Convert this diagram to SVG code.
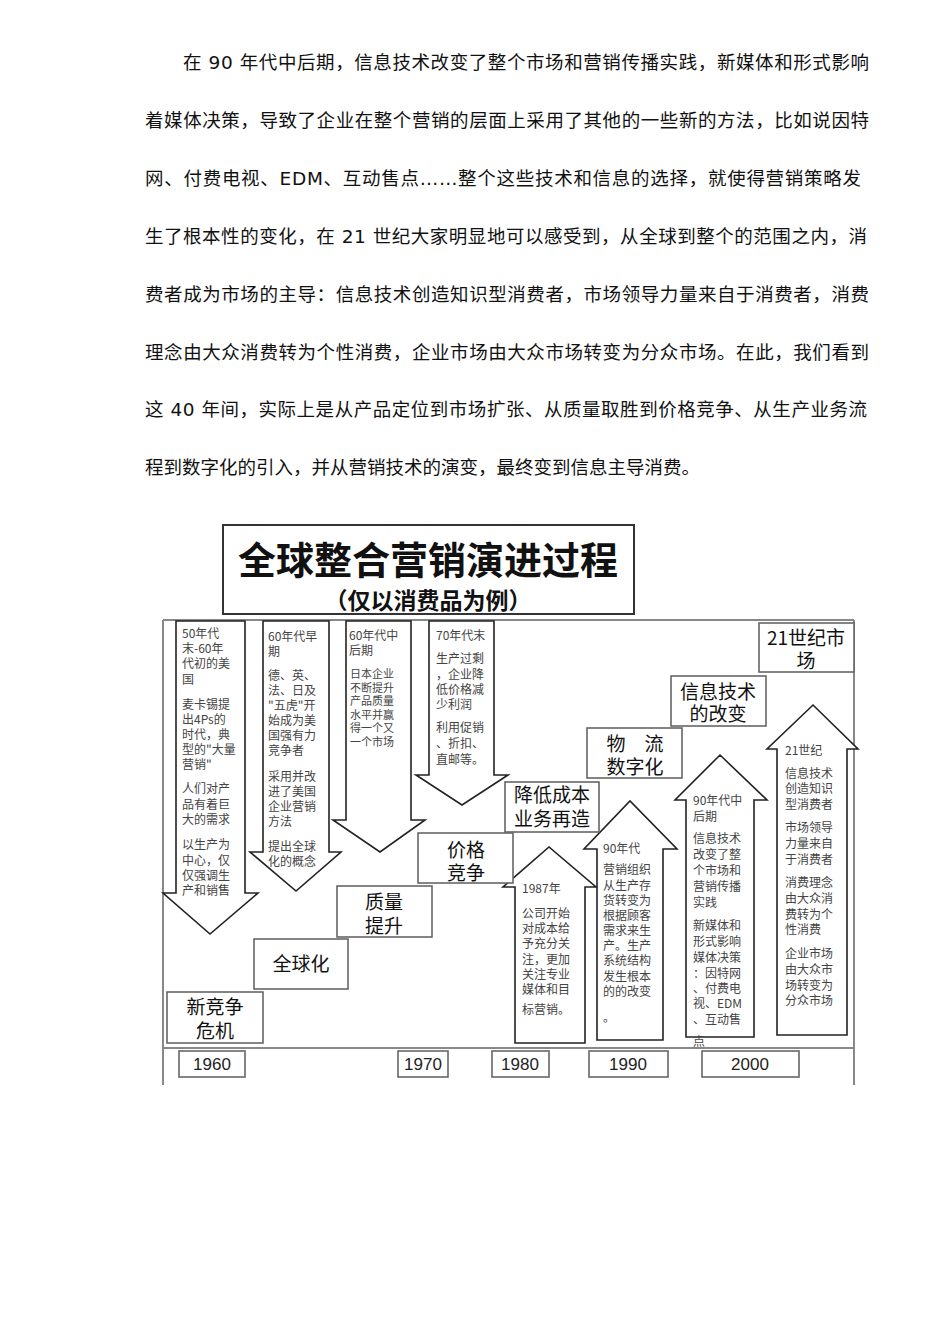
<svg xmlns="http://www.w3.org/2000/svg" width="950" height="1344" viewBox="0 0 950 1344">
<style>
.para{font-family:"DejaVu Sans","Noto Sans CJK SC",sans-serif;font-size:18.5px;fill:#111}
.arr{fill:#fff;stroke:#222;stroke-width:1.6;stroke-linejoin:miter}
.box{fill:#fff;stroke:#666;stroke-width:1.6}
.frame{fill:none;stroke:#888;stroke-width:2}
.small{font-family:"Noto Sans CJK SC",sans-serif;font-size:12px;fill:#444}
.tight{font-size:11px}
.step{font-family:"Noto Sans CJK SC",sans-serif;font-size:19px;fill:#111;text-anchor:middle}
.year{font-family:"Liberation Sans",Arial,sans-serif;font-size:17px;fill:#222;text-anchor:middle}
.title{font-family:"Noto Sans CJK SC",sans-serif;font-weight:bold;fill:#111;text-anchor:middle}
</style>
<rect width="950" height="1344" fill="#fff"/>
<g id="paragraph">
<text class="para" x="183" y="69" textLength="686" lengthAdjust="spacing">在 90 年代中后期，信息技术改变了整个市场和营销传播实践，新媒体和形式影响</text>
<text class="para" x="145" y="127" textLength="724" lengthAdjust="spacing">着媒体决策，导致了企业在整个营销的层面上采用了其他的一些新的方法，比如说因特</text>
<text class="para" x="145" y="185" textLength="716" lengthAdjust="spacing">网、付费电视、EDM、互动售点……整个这些技术和信息的选择，就使得营销策略发</text>
<text class="para" x="145" y="243" textLength="722" lengthAdjust="spacing">生了根本性的变化，在 21 世纪大家明显地可以感受到，从全球到整个的范围之内，消</text>
<text class="para" x="145" y="301" textLength="724" lengthAdjust="spacing">费者成为市场的主导：信息技术创造知识型消费者，市场领导力量来自于消费者，消费</text>
<text class="para" x="145" y="359" textLength="724" lengthAdjust="spacing">理念由大众消费转为个性消费，企业市场由大众市场转变为分众市场。在此，我们看到</text>
<text class="para" x="145" y="416" textLength="722" lengthAdjust="spacing">这 40 年间，实际上是从产品定位到市场扩张、从质量取胜到价格竞争、从生产业务流</text>
<text class="para" x="145" y="474">程到数字化的引入，并从营销技术的演变，最终变到信息主导消费。</text>
</g>
<g id="title">
<rect x="223" y="525" width="411" height="89" fill="#fff" stroke="#333" stroke-width="2"/>
<text class="title" x="428" y="574" font-size="38">全球整合营销演进过程</text>
<text class="title" x="428" y="609" font-size="23">（仅以消费品为例）</text>
</g>
<g id="frame">
<path class="frame" d="M163,620 H854 M163,620 V1085 M854,620 V1085 M163,1048 H854"/>
</g>
<g id="arrow-50s">
<polygon class="arr" points="176,621 245,621 245,893 258,893 210,934 163,893 176,893"/>
<text class="small"><tspan x="182" y="637.5">50年代</tspan><tspan x="182" y="652.5">末-60年</tspan><tspan x="182" y="667.5">代初的美</tspan><tspan x="182" y="683.5">国</tspan><tspan x="182" y="708.5">麦卡锡提</tspan><tspan x="182" y="723.5">出4Ps的</tspan><tspan x="182" y="738.5">时代，典</tspan><tspan x="182" y="753.5">型的"大量</tspan><tspan x="182" y="768.5">营销"</tspan><tspan x="182" y="792.5">人们对产</tspan><tspan x="182" y="808.5">品有着巨</tspan><tspan x="182" y="823.5">大的需求</tspan><tspan x="182" y="848.5">以生产为</tspan><tspan x="182" y="864.5">中心，仅</tspan><tspan x="182" y="879.5">仅强调生</tspan><tspan x="182" y="894.5">产和销售</tspan></text>
</g>
<g id="arrow-60s-early">
<polygon class="arr" points="263,621 329,621 329,852 341,852 296,891 250,852 263,852"/>
<text class="small"><tspan x="268" y="640.5">60年代早</tspan><tspan x="268" y="655.5">期</tspan><tspan x="268" y="679.5">德、英、</tspan><tspan x="268" y="694.5">法、日及</tspan><tspan x="268" y="709.5">"五虎"开</tspan><tspan x="268" y="724.5">始成为美</tspan><tspan x="268" y="739.5">国强有力</tspan><tspan x="268" y="754.5">竞争者</tspan><tspan x="268" y="780.5">采用并改</tspan><tspan x="268" y="795.5">进了美国</tspan><tspan x="268" y="810.5">企业营销</tspan><tspan x="268" y="825.5">方法</tspan><tspan x="268" y="850.5">提出全球</tspan><tspan x="268" y="865.5">化的概念</tspan></text>
</g>
<g id="arrow-60s-late">
<polygon class="arr" points="346,621 411,621 411,820 425,820 380,852 333,820 346,820"/>
<text class="small"><tspan x="349" y="639.5">60年代中</tspan><tspan x="349" y="654.5">后期</tspan></text>
<text class="small tight"><tspan x="350" y="678">日本企业</tspan><tspan x="350" y="691.5">不断提升</tspan><tspan x="350" y="705">产品质量</tspan><tspan x="350" y="718.5">水平并赢</tspan><tspan x="350" y="732">得一个又</tspan><tspan x="350" y="745.5">一个市场</tspan></text>
</g>
<g id="arrow-70s">
<polygon class="arr" points="429,621 494,621 494,775 508,775 462,805 416,775 429,775"/>
<text class="small"><tspan x="436" y="639.5">70年代末</tspan><tspan x="436" y="662.5">生产过剩</tspan><tspan x="436" y="678.5">，企业降</tspan><tspan x="436" y="693.5">低价格减</tspan><tspan x="436" y="708.5">少利润</tspan><tspan x="436" y="731.5">利用促销</tspan><tspan x="436" y="747.5">、折扣、</tspan><tspan x="436" y="763.5">直邮等。</tspan></text>
</g>
<g id="arrow-1987">
<polygon class="arr" points="515,1043 515,887 503,887 549,847 596,887 585,887 585,1043"/>
<text class="small"><tspan x="522" y="892.5">1987年</tspan><tspan x="522" y="917.5">公司开始</tspan><tspan x="522" y="932.5">对成本给</tspan><tspan x="522" y="947.5">予充分关</tspan><tspan x="522" y="963.5">注，更加</tspan><tspan x="522" y="978.5">关注专业</tspan><tspan x="522" y="993.5">媒体和目</tspan><tspan x="522" y="1013.5">标营销。</tspan></text>
</g>
<g id="arrow-90s">
<polygon class="arr" points="597,1040 597,849 584,849 630,801 677,849 663,849 663,1040"/>
<text class="small"><tspan x="603" y="852.5">90年代</tspan><tspan x="603" y="873.5">营销组织</tspan><tspan x="603" y="889.5">从生产存</tspan><tspan x="603" y="904.5">货转变为</tspan><tspan x="603" y="919.5">根据顾客</tspan><tspan x="603" y="934.5">需求来生</tspan><tspan x="603" y="949.5">产。生产</tspan><tspan x="603" y="964.5">系统结构</tspan><tspan x="603" y="980.5">发生根本</tspan><tspan x="603" y="995.5">的的改变</tspan><tspan x="603" y="1021.5">。</tspan></text>
</g>
<g id="arrow-90s-late">
<polygon class="arr" points="686,1037 686,800 675,800 720,755 767,800 754,800 754,1037"/>
<text class="small"><tspan x="693" y="804.5">90年代中</tspan><tspan x="693" y="820.5">后期</tspan><tspan x="693" y="842.5">信息技术</tspan><tspan x="693" y="858.5">改变了整</tspan><tspan x="693" y="874.5">个市场和</tspan><tspan x="693" y="890.5">营销传播</tspan><tspan x="693" y="906.5">实践</tspan><tspan x="693" y="929.5">新媒体和</tspan><tspan x="693" y="945.5">形式影响</tspan><tspan x="693" y="961.5">媒体决策</tspan><tspan x="693" y="977.5">：因特网</tspan><tspan x="693" y="992.5">、付费电</tspan><tspan x="693" y="1007.5">视、EDM</tspan><tspan x="693" y="1023.5">、互动售</tspan><tspan x="693" y="1045.5">点</tspan></text>
</g>
<g id="arrow-21c">
<polygon class="arr" points="777,1035 777,749 767,749 813,705 858,749 847,749 847,1035"/>
<text class="small"><tspan x="785" y="754.5">21世纪</tspan><tspan x="785" y="777.5">信息技术</tspan><tspan x="785" y="792.5">创造知识</tspan><tspan x="785" y="808.5">型消费者</tspan><tspan x="785" y="831.5">市场领导</tspan><tspan x="785" y="847.5">力量来自</tspan><tspan x="785" y="863.5">于消费者</tspan><tspan x="785" y="886.5">消费理念</tspan><tspan x="785" y="902.5">由大众消</tspan><tspan x="785" y="918.5">费转为个</tspan><tspan x="785" y="933.5">性消费</tspan><tspan x="785" y="957.5">企业市场</tspan><tspan x="785" y="973.5">由大众市</tspan><tspan x="785" y="989.5">场转变为</tspan><tspan x="785" y="1004.5">分众市场</tspan></text>
</g>
<g id="step-new-competition">
<rect class="box" x="167" y="992" width="96" height="51"/>
<text class="step"><tspan x="215" y="1014">新竞争</tspan><tspan x="215" y="1038">危机</tspan></text>
</g>
<g id="step-globalization">
<rect class="box" x="254" y="939" width="94" height="50"/>
<text class="step" x="301" y="971">全球化</text>
</g>
<g id="step-quality">
<rect class="box" x="337" y="886" width="95" height="51"/>
<text class="step"><tspan x="384" y="909">质量</tspan><tspan x="384" y="933">提升</tspan></text>
</g>
<g id="step-price">
<rect class="box" x="418" y="833" width="95" height="50"/>
<text class="step"><tspan x="466" y="857">价格</tspan><tspan x="466" y="880">竞争</tspan></text>
</g>
<g id="step-cost">
<rect class="box" x="505" y="782" width="94" height="50"/>
<text class="step"><tspan x="552" y="802">降低成本</tspan><tspan x="552" y="826">业务再造</tspan></text>
</g>
<g id="step-logistics">
<rect class="box" x="587" y="728" width="95" height="50"/>
<text class="step"><tspan x="635" y="751">物　流</tspan><tspan x="635" y="774">数字化</tspan></text>
</g>
<g id="step-it">
<rect class="box" x="671" y="676" width="95" height="50"/>
<text class="step"><tspan x="718" y="699">信息技术</tspan><tspan x="718" y="721">的改变</tspan></text>
</g>
<g id="step-21c-market">
<rect class="box" x="759" y="623" width="95" height="49"/>
<text class="step"><tspan x="806" y="645">21世纪市</tspan><tspan x="806" y="668">场</tspan></text>
</g>
<g id="timeline">
<rect class="box" x="179" y="1051" width="66" height="26"/>
<text class="year" x="212" y="1070">1960</text>
<rect class="box" x="398" y="1051" width="50" height="26"/>
<text class="year" x="423" y="1070">1970</text>
<rect class="box" x="492" y="1051" width="57" height="26"/>
<text class="year" x="520" y="1070">1980</text>
<rect class="box" x="589" y="1051" width="79" height="26"/>
<text class="year" x="628" y="1070">1990</text>
<rect class="box" x="702" y="1051" width="97" height="26"/>
<text class="year" x="750" y="1070">2000</text>
</g>
</svg>
